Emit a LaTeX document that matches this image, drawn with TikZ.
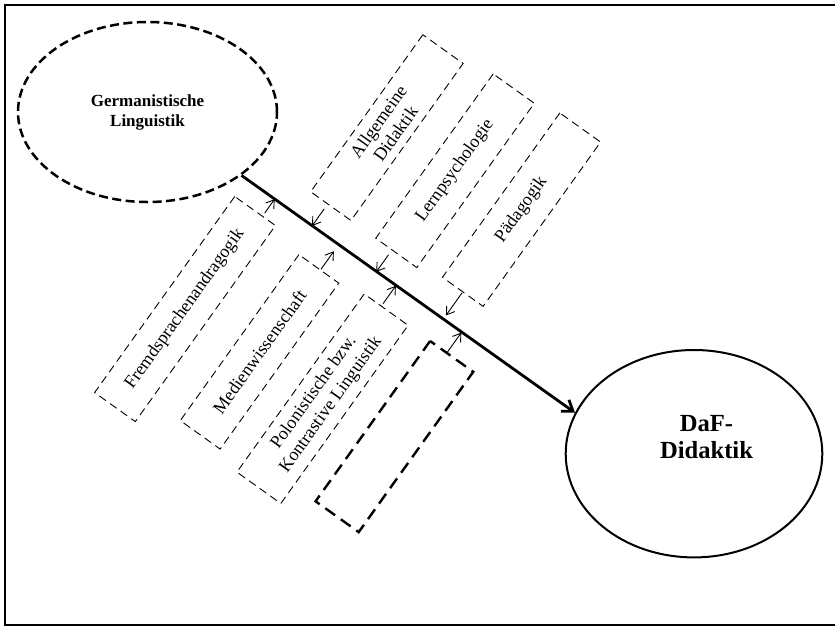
\documentclass[tikz,border=0pt]{standalone}
\usepackage{fontspec}
\setmainfont{Liberation Serif}
\usetikzlibrary{arrows.meta,shapes.geometric}
\begin{document}
\begin{tikzpicture}[x=1pt,y=1pt,
  frameline/.style={line width=2pt},
  field/.style={draw, dash pattern=on 8pt off 5pt, line width=0.9pt,
    rotate=54.45, inner sep=0pt, align=center,
    font=\fontsize{18}{21}\selectfont, minimum height=50pt},
  openfield/.style={draw, dash pattern=on 12pt off 7pt, line width=2.4pt,
    rotate=54.45, inner sep=0pt, minimum height=53pt},
  feed/.style={-{Straight Barb[length=7.5pt,width=10pt]}, line width=0.9pt},
  mainflow/.style={-{Straight Barb[length=10pt,width=14pt]}, line width=2.8pt},
]
\useasboundingbox (0,0) rectangle (835,-627);

% outer frame (open on the right)
\draw[frameline] (835,-5) -- (5,-5) -- (5,-625) -- (835,-625);

% source and target fields
\node[ellipse, draw, line width=2.5pt, dash pattern=on 9pt off 4.5pt,
      minimum width=259pt, minimum height=180pt, inner sep=0pt, align=center,
      font=\bfseries\fontsize{17}{20}\selectfont]
      (germ) at (147.5,-112) {Germanistische\\Linguistik};
\node[ellipse, draw, line width=2pt, minimum width=256.6pt,
      minimum height=207.4pt, inner sep=0pt] (daf) at (694,-453.7) {};
\node[font=\bfseries\fontsize{24.6}{27}\selectfont, align=center,
      inner sep=0pt] (daftext) at (706.5,-436.7) {DaF-\\Didaktik};

% main axis
\draw[mainflow] (germ.-34) -- (daf.161.7);

% contributing disciplines, laid out along the axis
\begin{scope}[shift={(238,-173)}, rotate=-35.55]
  % above the axis
  \node[field, minimum width=193pt, minimum height=49.5pt]
        (didaktik) at (94.75,123.5) {Allgemeine\\Didaktik};
  \node[field, minimum width=202pt, minimum height=50.5pt]
        (lernpsy) at (175.25,128) {Lernpsychologie};
  \node[field, minimum width=202pt] (paed) at (252,135) {Pädagogik};
  % below the axis
  \node[field, minimum width=241pt] (andra) at (36,-141.5)
        {Fremdsprachenandragogik};
  \node[field, minimum width=204pt, minimum height=49pt]
        (medien) at (121.5,-133) {Medienwissenschaft};
  \node[field, minimum width=219pt, minimum height=54pt]
        (polon) at (200,-134.5) {Polonistische bzw.\\Kontrastive Linguistik};
  \node[openfield, minimum width=197pt] (leer) at (280.5,-123.5) {};

  % arrow ends
  \coordinate (t1) at (91,21);     \coordinate (h1) at (91,0);
  \coordinate (t2) at (170,21);    \coordinate (h2) at (170,0);
  \coordinate (t3) at (252,33);    \coordinate (h3) at (252,5);
  \coordinate (t4) at (45,-17);    \coordinate (h4) at (45,0);
  \coordinate (t5) at (123.5,-30); \coordinate (h5) at (123.5,-8);
  \coordinate (t6) at (194,-22);   \coordinate (h6) at (194,0);
  \coordinate (t7) at (274.5,-25); \coordinate (h7) at (274.5,0);
\end{scope}

\foreach \i in {1,...,7} \draw[feed] (t\i) -- (h\i);
\end{tikzpicture}
\end{document}
